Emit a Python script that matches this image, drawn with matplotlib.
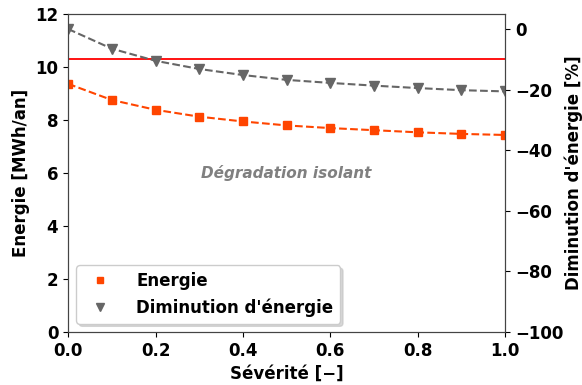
import matplotlib.pyplot as plt

severite = [0.0, 0.1, 0.2, 0.3, 0.4, 0.5, 0.6, 0.7, 0.8, 0.9, 1.0]
energie = [9.36, 8.75, 8.38, 8.12, 7.94, 7.79, 7.69, 7.61, 7.53, 7.47, 7.43]
diminution = [0.0, -6.5, -10.5, -13.2, -15.2, -16.8, -17.8, -18.7, -19.5, -20.2, -20.6]
energie_ref = 10.3

plt.rcParams['font.weight'] = 'bold'
plt.rcParams['axes.labelweight'] = 'bold'
plt.rcParams['font.size'] = 12

fig, ax = plt.subplots(figsize=(5.82, 3.85), dpi=100)
ax2 = ax.twinx()

# lignes pointillées + marqueurs (légende avec marqueurs seuls)
ax.plot(severite, energie, '--', color='#ff4500', lw=1.5)
l1, = ax.plot(severite, energie, 's', color='#ff4500', ms=6, label='Energie')
ax.axhline(energie_ref, color='red', lw=1.3)

ax2.plot(severite, diminution, '--', color='#666666', lw=1.5)
l2, = ax2.plot(severite, diminution, 'v', color='#666666', ms=7, label="Diminution d'énergie")

ax.set_xlim(0, 1)
ax.set_ylim(0, 12)
ax2.set_ylim(-100, 5)
ax2.set_yticks([0, -20, -40, -60, -80, -100])

ax.set_xlabel('Sévérité [−]')
ax.set_ylabel('Energie [MWh/an]')
ax2.set_ylabel("Diminution d'énergie [%]", labelpad=1)

ax.text(0.5, 6, 'Dégradation isolant', style='italic', fontweight='bold',
        color='gray', ha='center', va='center', fontsize=11)

ax2.legend(handles=[l1, l2], loc='lower left', fontsize=12,
           handletextpad=1.2, markerscale=0.8,
           shadow={'color': '0.75', 'alpha': 0.6})

for a in (ax, ax2):
    for s in a.spines.values():
        s.set_color('#444444')

fig.subplots_adjust(left=0.117, right=0.868, top=0.964, bottom=0.138)
plt.savefig('out.png', dpi=100)
